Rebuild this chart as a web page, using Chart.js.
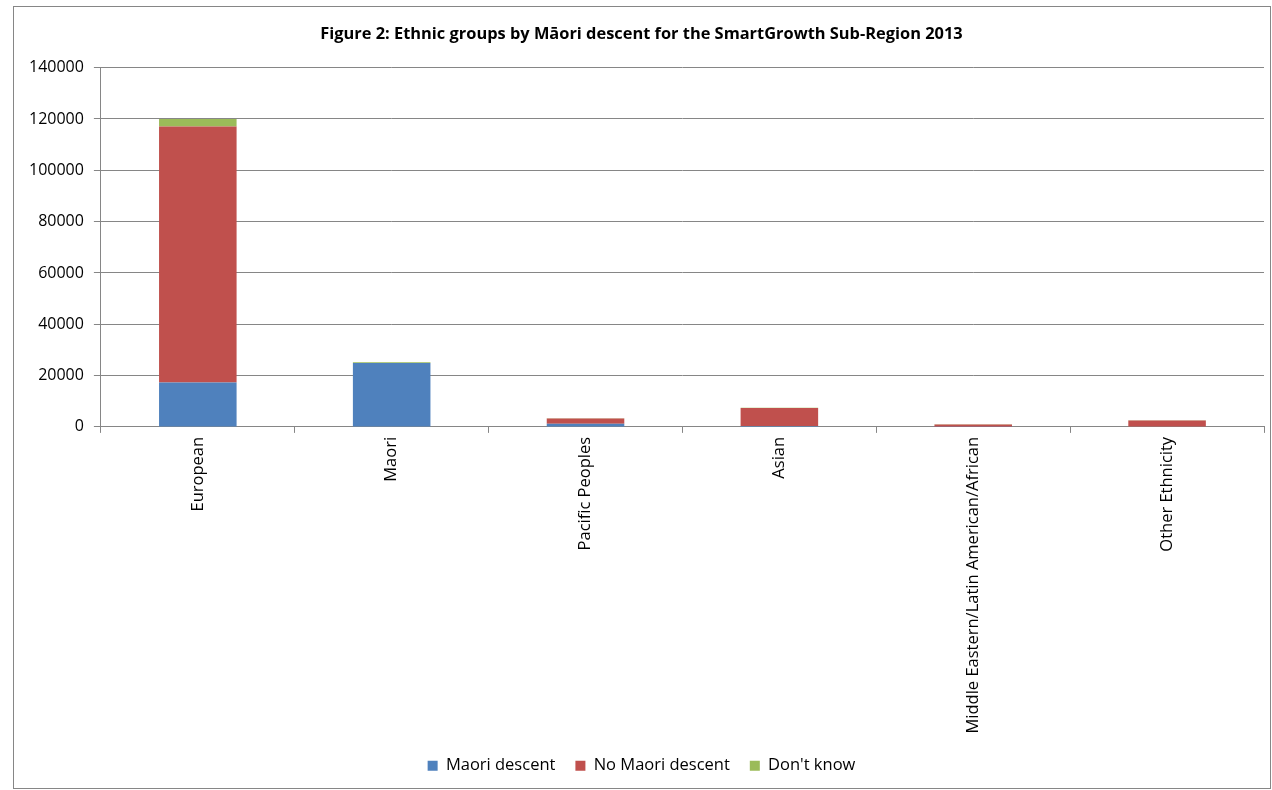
<!DOCTYPE html>
<html>
<head>
<meta charset="utf-8">
<script src="https://cdn.jsdelivr.net/npm/chart.js@4.4.1/dist/chart.umd.min.js"></script>
<style>
  html, body { margin: 0; padding: 0; background: #fff; overflow: hidden; }
  #wrap { position: absolute; left: 0; top: 0; width: 1272px; height: 790px; }
  #frame { position: absolute; left: 13px; top: 6px; width: 1258px; height: 783px; border: 1px solid #868686; box-sizing: border-box; pointer-events: none; }
</style>
</head>
<body>
<div id="wrap"><canvas id="c"></canvas></div>
<div id="frame"></div>
<script>
const categories = ["European", "Maori", "Pacific Peoples", "Asian", "Middle Eastern/Latin American/African", "Other Ethnicity"];
const maoriDescent = [17300, 24900, 1200, 300, 60, 150];
const noMaoriDescent = [99800, 0, 2100, 7100, 900, 2350];
const dontKnow = [2900, 250, 100, 100, 30, 60];
const yTicks = [0, 20000, 40000, 60000, 80000, 100000, 120000, 140000];
const titleText = "Figure 2: Ethnic groups by Māori descent for the SmartGrowth Sub-Region 2013";

const FONT = "'Open Sans', 'Noto Sans', sans-serif";
new Chart(document.getElementById('c'), {
  type: 'bar',
  data: {
    labels: categories,
    datasets: [
      { label: 'Maori descent', data: maoriDescent, backgroundColor: '#4F81BD', borderWidth: 0 },
      { label: 'No Maori descent', data: noMaoriDescent, backgroundColor: '#C0504D', borderWidth: 0 },
      { label: "Don't know", data: dontKnow, backgroundColor: '#9BBB59', borderWidth: 0 }
    ]
  },
  options: {
    responsive: true,
    maintainAspectRatio: false,
    animation: false,
    layout: { padding: { left: 19, right: 8, top: 24, bottom: 6 } },
    datasets: { bar: { barPercentage: 0.4, categoryPercentage: 1.0 } },
    plugins: {
      title: { display: true, text: titleText, color: '#000', font: { family: FONT, size: 16.4, weight: 'bold' }, padding: { top: 0, bottom: 24 } },
      legend: { position: 'bottom', labels: { color: '#000', font: { family: FONT, size: 16.5 }, boxWidth: 10, boxHeight: 10, padding: 20 } },
      tooltip: { enabled: false }
    },
    scales: {
      x: {
        stacked: true,
        grid: { display: true, drawOnChartArea: false, drawTicks: true, tickLength: 6, color: '#868686', offset: true },
        border: { color: '#868686', width: 1 },
        ticks: { color: '#000', font: { family: FONT, size: 16.5 }, maxRotation: 90, minRotation: 90, autoSkip: false, padding: 4 }
      },
      y: {
        stacked: true,
        min: 0, max: 140000,
        afterBuildTicks: (axis) => { axis.ticks = yTicks.map(v => ({ value: v })); },
        grid: { color: '#868686', tickLength: 7 },
        border: { color: '#868686', width: 1 },
        ticks: { color: '#000', font: { family: FONT, size: 16 }, padding: 10, callback: (v) => String(v) }
      }
    }
  }
});
</script>
</body>
</html>
